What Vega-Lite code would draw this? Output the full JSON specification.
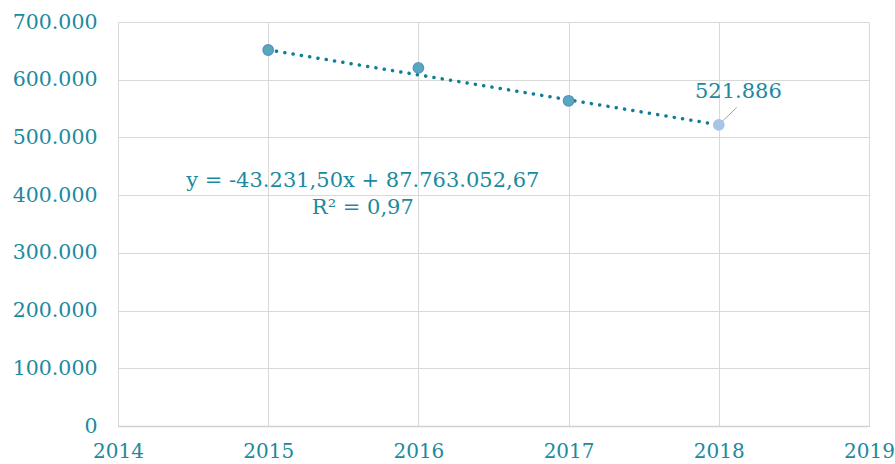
{
  "$schema": "https://vega.github.io/schema/vega-lite/v6.json",
  "width": 751,
  "height": 404,
  "autosize": {"type": "none"},
  "padding": {"left": 118, "top": 22, "right": 26, "bottom": 38},
  "background": "white",
  "config": {
    "locale": {"number": {"decimal": ",", "thousands": ".", "grouping": [3], "currency": ["", ""]}},
    "view": {"stroke": null},
    "font": "DejaVu Serif"
  },
  "datasets": {
    "points": [
      {"year": 2015, "value": 651500, "kind": "normal"},
      {"year": 2016, "value": 620500, "kind": "normal"},
      {"year": 2017, "value": 563500, "kind": "normal"},
      {"year": 2018, "value": 521886, "kind": "last"}
    ],
    "trend": [
      {"year": 2015, "value": 651580},
      {"year": 2018, "value": 521886}
    ],
    "notes": [
      {"year": 2015.63, "value": 425000, "text": "y = -43.231,50x + 87.763.052,67"},
      {"year": 2015.63, "value": 378000, "text": "R² = 0,97"},
      {"year": 2018.13, "value": 578000, "text": "521.886"}
    ],
    "leader": [
      {"year": 2018.12, "value": 552000, "year2": 2018.0, "value2": 522000}
    ]
  },
  "layer": [
    {
      "data": {"name": "points"},
      "mark": {"type": "point", "opacity": 0},
      "encoding": {
        "x": {
          "field": "year", "type": "quantitative",
          "scale": {"domain": [2014, 2019], "nice": false, "zero": false},
          "axis": {
            "title": null, "values": [2014, 2015, 2016, 2017, 2018, 2019], "format": "d",
            "grid": true, "gridColor": "#d9d9d9", "gridWidth": 1,
            "domain": true, "domainColor": "#d0d0d0", "domainWidth": 1.5,
            "ticks": false, "labelPadding": 15, "labelFontSize": 20,
            "labelColor": "#1c8a9e", "labelFont": "DejaVu Serif", "labelFlush": false
          }
        },
        "y": {
          "field": "value", "type": "quantitative",
          "scale": {"domain": [0, 700000], "nice": false},
          "axis": {
            "title": null, "values": [0, 100000, 200000, 300000, 400000, 500000, 600000, 700000], "format": ",d",
            "grid": true, "gridColor": "#d9d9d9", "gridWidth": 1,
            "domain": false, "ticks": false, "labelPadding": 21, "labelFontSize": 20.5,
            "labelColor": "#1c8a9e", "labelFont": "DejaVu Serif"
          }
        }
      }
    },
    {
      "data": {"name": "trend"},
      "mark": {"type": "line", "color": "#0f7f93", "strokeWidth": 3.5, "strokeDash": [0.1, 8.3], "strokeCap": "round"},
      "encoding": {
        "x": {"field": "year", "type": "quantitative"},
        "y": {"field": "value", "type": "quantitative"}
      }
    },
    {
      "data": {"name": "leader"},
      "mark": {"type": "rule", "color": "#a6a6a6", "strokeWidth": 1},
      "encoding": {
        "x": {"field": "year", "type": "quantitative"},
        "y": {"field": "value", "type": "quantitative"},
        "x2": {"field": "year2"},
        "y2": {"field": "value2"}
      }
    },
    {
      "data": {"name": "points"},
      "mark": {"type": "point", "filled": true, "size": 110, "strokeWidth": 1.3, "opacity": 1},
      "encoding": {
        "x": {"field": "year", "type": "quantitative"},
        "y": {"field": "value", "type": "quantitative"},
        "fill": {"field": "kind", "type": "nominal", "scale": {"domain": ["normal", "last"], "range": ["#58a9bb", "#a7c4e6"]}, "legend": null},
        "stroke": {"field": "kind", "type": "nominal", "scale": {"domain": ["normal", "last"], "range": ["#5b8fc9", "#a7c4e6"]}, "legend": null}
      }
    },
    {
      "data": {"name": "notes"},
      "mark": {"type": "text", "font": "DejaVu Serif", "fontSize": 21, "color": "#1c8a9e", "align": "center", "baseline": "middle"},
      "encoding": {
        "x": {"field": "year", "type": "quantitative"},
        "y": {"field": "value", "type": "quantitative"},
        "text": {"field": "text"}
      }
    }
  ]
}
